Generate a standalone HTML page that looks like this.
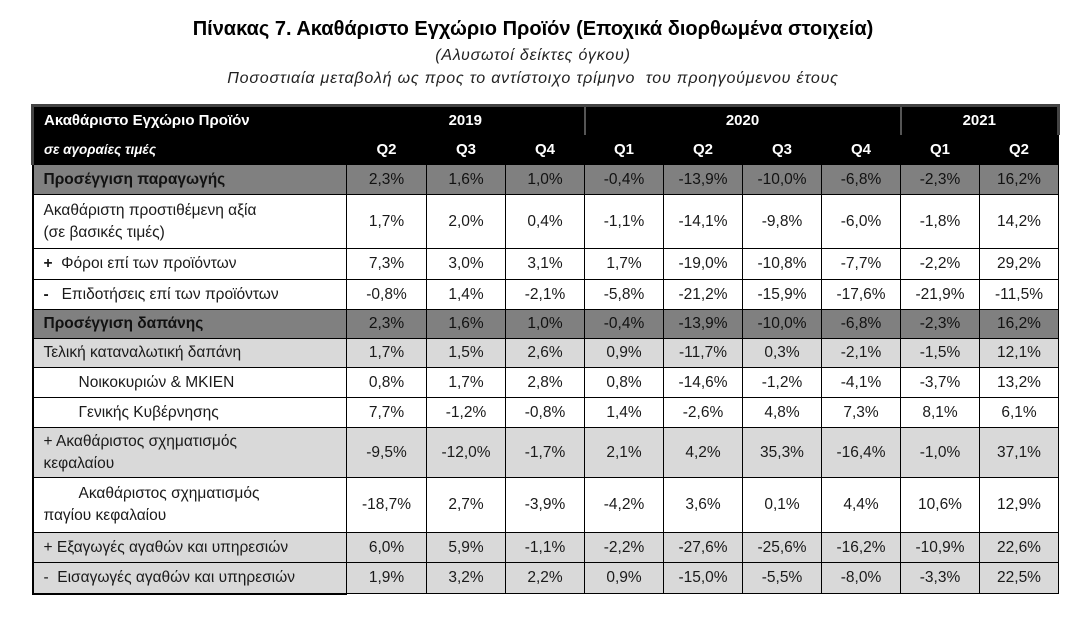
<!DOCTYPE html>
<html><head><meta charset="utf-8">
<style>
body{margin:0;width:1082px;height:627px;background:#fff;font-family:"Liberation Sans","DejaVu Sans",sans-serif;color:#1a1a1a;position:relative;overflow:hidden}
.t{position:absolute;left:0;width:1066px;text-align:center}
#title{top:18px;font-size:20px;font-weight:bold;color:#000}
.sub{font-size:16px;font-style:italic;color:#222;letter-spacing:0.8px}
table{position:absolute;left:31px;top:104px;border-collapse:collapse;table-layout:fixed}
td{border:1px solid #000;padding:0;font-size:15.5px;text-align:center;vertical-align:middle;line-height:22px}
td.l{text-align:left;padding-left:10px;border-left:2px solid #000;white-space:nowrap}
tr.h td{background:#000;color:#fff;font-weight:bold;border-color:#000;font-size:15px}
tr.h1 td{border-top:3px solid #444}
tr.dk td{background:#808080;color:#111}
tr.dk td.l{font-weight:bold}
tr.lt td{background:#d9d9d9}
.ind{padding-left:45px!important}
</style></head><body>
<div class="t" id="title">Πίνακας 7. Ακαθάριστο Εγχώριο Προϊόν (Εποχικά διορθωμένα στοιχεία)</div>
<div class="t sub" style="top:47px">(Αλυσωτοί δείκτες όγκου)</div>
<div class="t sub" style="top:70px">Ποσοστιαία μεταβολή ως προς το αντίστοιχο τρίμηνο&nbsp; του προηγούμενου έτους</div>
<table>
<colgroup><col style="width:314px"><col style="width:80px"><col style="width:79px"><col style="width:79px"><col style="width:79px"><col style="width:79px"><col style="width:79px"><col style="width:79px"><col style="width:79px"><col style="width:79px"></colgroup>
<tr class="h h1" style="height:29px">
<td class="l" style="border-left:3px solid #444">Ακαθάριστο Εγχώριο Προϊόν</td>
<td colspan="3">2019</td>
<td colspan="4" style="border-left:2px solid #555">2020</td>
<td colspan="2" style="border-left:2px solid #555;border-right:3px solid #444">2021</td></tr>
<tr class="h" style="height:30px">
<td class="l" style="font-style:italic;font-size:13.5px;border-left:3px solid #444">σε αγοραίες τιμές</td>
<td>Q2</td><td>Q3</td><td>Q4</td><td>Q1</td><td>Q2</td><td>Q3</td><td>Q4</td><td>Q1</td><td>Q2</td></tr>
<tbody id="body"></tbody>
</table>
<script>
const labels=["Προσέγγιση παραγωγής","Ακαθάριστη προστιθέμενη αξία<br>(σε βασικές τιμές)","<b>+</b>&nbsp; Φόροι επί των προϊόντων","<b>-</b>&nbsp;&nbsp; Επιδοτήσεις επί των προϊόντων","Προσέγγιση δαπάνης","Τελική καταναλωτική δαπάνη","Νοικοκυριών &amp; ΜΚΙΕΝ","Γενικής Κυβέρνησης","+ Ακαθάριστος σχηματισμός<br>κεφαλαίου","<span style='padding-left:35px'>Ακαθάριστος σχηματισμός</span><br>παγίου κεφαλαίου","+ Εξαγωγές αγαθών και υπηρεσιών","-&nbsp; Εισαγωγές αγαθών και υπηρεσιών"];
const rowClass=["dk","","","","dk","lt","","","lt","","lt","lt"];
const indent=[0,0,0,0,0,0,1,1,0,0,0,0];
const heights=[30,54,31,30,29,29,30,30,50,55,30,31];
const values=[
["2,3%","1,6%","1,0%","-0,4%","-13,9%","-10,0%","-6,8%","-2,3%","16,2%"],
["1,7%","2,0%","0,4%","-1,1%","-14,1%","-9,8%","-6,0%","-1,8%","14,2%"],
["7,3%","3,0%","3,1%","1,7%","-19,0%","-10,8%","-7,7%","-2,2%","29,2%"],
["-0,8%","1,4%","-2,1%","-5,8%","-21,2%","-15,9%","-17,6%","-21,9%","-11,5%"],
["2,3%","1,6%","1,0%","-0,4%","-13,9%","-10,0%","-6,8%","-2,3%","16,2%"],
["1,7%","1,5%","2,6%","0,9%","-11,7%","0,3%","-2,1%","-1,5%","12,1%"],
["0,8%","1,7%","2,8%","0,8%","-14,6%","-1,2%","-4,1%","-3,7%","13,2%"],
["7,7%","-1,2%","-0,8%","1,4%","-2,6%","4,8%","7,3%","8,1%","6,1%"],
["-9,5%","-12,0%","-1,7%","2,1%","4,2%","35,3%","-16,4%","-1,0%","37,1%"],
["-18,7%","2,7%","-3,9%","-4,2%","3,6%","0,1%","4,4%","10,6%","12,9%"],
["6,0%","5,9%","-1,1%","-2,2%","-27,6%","-25,6%","-16,2%","-10,9%","22,6%"],
["1,9%","3,2%","2,2%","0,9%","-15,0%","-5,5%","-8,0%","-3,3%","22,5%"]];
const body=document.getElementById('body');
labels.forEach((lab,i)=>{
 const tr=document.createElement('tr');
 
 
 if(rowClass[i])tr.className=rowClass[i];
 tr.style.height=heights[i]+'px';
 const td=document.createElement('td');
 
 
 td.className='l'+(indent[i]?' ind':'');
 td.innerHTML=lab;
 if(i===labels.length-1)td.style.borderBottom='2px solid #000';
 tr.appendChild(td);
 values[i].forEach(v=>{
  const c=document.createElement('td');
  
  
  c.textContent=v;
  tr.appendChild(c);
 });
 body.appendChild(tr);
});
</script>
</body></html>
